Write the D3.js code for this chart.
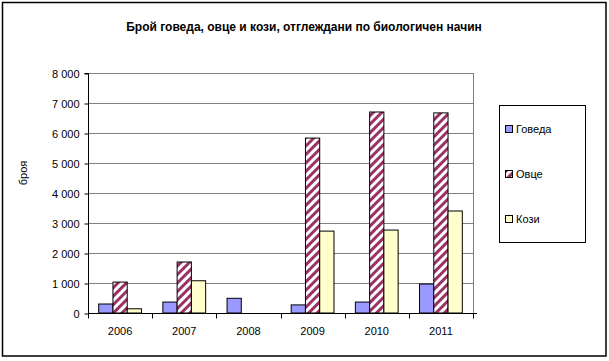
<!DOCTYPE html>
<html><head><meta charset="utf-8">
<script src="https://cdn.jsdelivr.net/npm/d3@7/dist/d3.min.js"></script>
<style>body{margin:0;background:#fff}svg{display:block}text{font-family:"Liberation Sans",Arial,sans-serif}</style>
</head><body><svg id="c" width="609" height="361"></svg>
<script>
const years = ["2006","2007","2008","2009","2010","2011"];
const seriesNames = ["Говеда","Овце","Кози"];
const cattle = [300, 365, 490, 270, 365, 965];
const sheep = [1030, 1700, 0, 5830, 6700, 6670];
const goats = [140, 1075, 0, 2730, 2765, 3400];
const yTicks = [0,1000,2000,3000,4000,5000,6000,7000,8000];
const title = "Брой говеда, овце и кози, отглеждани по биологичен начин";
const yTitle = "броя";

const svg = d3.select("#c");
const defs = svg.append("defs");
const pat = defs.append("pattern").attr("id","hatch").attr("patternUnits","userSpaceOnUse")
  .attr("width",6).attr("height",6).attr("patternTransform","rotate(45)");
pat.append("rect").attr("width",6).attr("height",6).attr("fill","#fff");
pat.append("rect").attr("width",3).attr("height",6).attr("fill","#993366");

svg.append("rect").attr("x",2.5).attr("y",2.5).attr("width",603.5).attr("height",353.5)
  .attr("fill","#fff").attr("stroke","#000").attr("stroke-width",1.5);

const L=88, R=473, T=73, B=313;
const x = d3.scaleBand().domain(years).range([L,R]).paddingInner(0).paddingOuter(0);
const y = d3.scaleLinear().domain([0,8000]).range([B,T]);
const bw = x.bandwidth()/4.5;
const fills = ["#9999FF","url(#hatch)","#FFFFCC"];
const data = [cattle, sheep, goats];

// gridlines
svg.append("g").selectAll("line").data(yTicks.slice(1)).join("line")
  .attr("x1",L).attr("x2",R).attr("y1",d=>Math.round(y(d))+0.5).attr("y2",d=>Math.round(y(d))+0.5)
  .attr("stroke","#808080");
svg.append("line").attr("x1",R+0.5).attr("x2",R+0.5).attr("y1",T).attr("y2",B).attr("stroke","#808080");

// bars
data.forEach((arr,si)=>{
  svg.append("g").selectAll("rect").data(arr.map((v,i)=>({v,yr:years[i]})).filter(d=>d.v>0)).join("rect")
    .attr("x",d=>x(d.yr)+0.75*bw+si*bw)
    .attr("y",d=>y(d.v)).attr("width",bw).attr("height",d=>B-y(d.v))
    .attr("fill",fills[si]).attr("stroke","#000").attr("stroke-width",1);
});

// y axis
const yAxis = d3.axisLeft(y).tickValues(yTicks).tickSize(4).tickPadding(5)
  .tickFormat(d=>d3.format(",")(d).replace(/,/g," "));
const gy = svg.append("g").attr("transform",`translate(${L+0.5},0.5)`).call(yAxis);
gy.select(".domain").attr("stroke","#000").attr("d",`M-4,${y(8000)}H0V${B}`);
gy.selectAll(".tick line").attr("stroke","#000");
gy.selectAll("text").attr("font-size",11).attr("fill","#000").attr("font-family","Liberation Sans, Arial, sans-serif");

// x axis
const gx = svg.append("g").attr("transform",`translate(0,${B+0.5})`).call(d3.axisBottom(x).tickSize(0).tickPadding(14));
gx.select(".domain").attr("stroke","#000").attr("d",`M${L},0H${R+4}`);
gx.selectAll("text").attr("font-size",11).attr("fill","#000").attr("font-family","Liberation Sans, Arial, sans-serif");
gx.append("g").selectAll("line").data(years.concat(["end"])).join("line")
  .attr("x1",(d,i)=>Math.round(L+i*x.bandwidth())+0.5).attr("x2",(d,i)=>Math.round(L+i*x.bandwidth())+0.5)
  .attr("y1",0).attr("y2",5).attr("stroke","#000");

// title
svg.append("text").attr("x",304).attr("y",31).attr("text-anchor","middle")
  .attr("font-size",12).attr("font-weight","bold").text(title);
svg.append("text").attr("transform","translate(27,173) rotate(-90)").attr("text-anchor","middle")
  .attr("font-size",11).text(yTitle);

// legend
svg.append("rect").attr("x",499.5).attr("y",105.5).attr("width",86).attr("height",137)
  .attr("fill","#fff").attr("stroke","#000");
const lg = svg.append("g").selectAll("g").data(seriesNames).join("g")
  .attr("transform",(d,i)=>`translate(505,${125+i*45})`);
lg.append("rect").attr("x",0.5).attr("y",0.5).attr("width",7).attr("height",7)
  .attr("fill",(d,i)=>fills[i]).attr("stroke","#000");
lg.append("text").attr("x",11).attr("y",8).attr("font-size",11).text(d=>d);
</script></body></html>
